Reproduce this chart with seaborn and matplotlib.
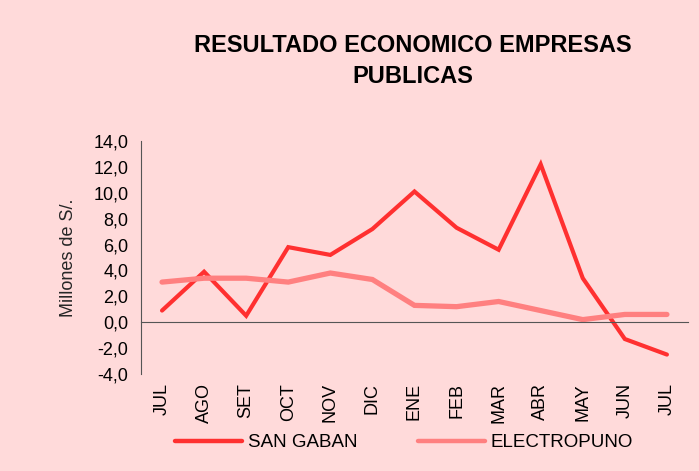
import numpy as np
import pandas as pd
import matplotlib
matplotlib.use("Agg")
import matplotlib.pyplot as plt
import seaborn as sns

# --------------------------------------------------
# DATA
# --------------------------------------------------

months = ["JUL", "AGO", "SET", "OCT", "NOV", "DIC", "ENE",
          "FEB", "MAR", "ABR", "MAY", "JUN", "JUL"]

san_gaban = [0.9, 3.9, 0.5, 5.8, 5.2, 7.2, 10.1,
             7.3, 5.6, 12.2, 3.4, -1.3, -2.5]

electropuno = [3.1, 3.4, 3.4, 3.1, 3.8, 3.3, 1.3,
               1.2, 1.6, 0.9, 0.2, 0.6, 0.6]

yticks = [-4, -2, 0, 2, 4, 6, 8, 10, 12, 14]

df = pd.DataFrame({
    "pos": list(range(len(months))) * 2,
    "valor": san_gaban + electropuno,
    "empresa": ["SAN GABAN"] * len(months) + ["ELECTROPUNO"] * len(months),
})

# --------------------------------------------------
# STYLE
# --------------------------------------------------

bg = "#FFDADA"
sns.set_style("white")
plt.rcParams["font.family"] = ["Liberation Sans", "DejaVu Sans"]
plt.rcParams["text.color"] = "black"
plt.rcParams["ytick.labelcolor"] = "black"

fig = plt.figure(figsize=(6.99, 4.71), dpi=100, facecolor=bg)
ax = fig.add_axes([0.2017, 0.206, 0.7825, 0.4946])
ax.set_facecolor(bg)

sns.lineplot(
    data=df, x="pos", y="valor", hue="empresa",
    palette={"SAN GABAN": "#FF3030", "ELECTROPUNO": "#FF8080"},
    linewidth=3.2, sort=False, ax=ax, legend=True,
)
for ln, lw in zip(ax.lines, [3.0, 3.8]):
    ln.set_linewidth(lw)
    ln.set_solid_joinstyle("miter")

# --------------------------------------------------
# AXES
# --------------------------------------------------

ax.set_xlim(-0.5, len(months) - 0.5)
ax.set_ylim(-4, 14)
ax.set_yticks(yticks)
ax.set_yticklabels([f"{v:.1f}".replace(".", ",") for v in yticks], fontsize=13)
ax.tick_params(axis="y", direction="out", length=6, width=1, color="#555555", pad=3)

ax.set_xticks(np.arange(-0.5, len(months), 1.0))
ax.set_xticklabels([])
ax.tick_params(axis="x", direction="out", length=5, width=1, color="#555555")

for s in ["top", "right"]:
    ax.spines[s].set_visible(False)
ax.spines["left"].set_color("#555555")
ax.spines["bottom"].set_color("#555555")
ax.spines["bottom"].set_position(("data", 0))

for i, m in enumerate(months):
    ax.text(i, -0.04, m, transform=ax.get_xaxis_transform(),
            rotation=90, ha="center", va="top", fontsize=13)

ax.set_xlabel("")
ax.set_ylabel("Millones de S/.", fontsize=13, labelpad=12)

# --------------------------------------------------
# TITLE & LEGEND
# --------------------------------------------------

fig.text(0.591, 0.87, "RESULTADO ECONOMICO EMPRESAS\nPUBLICAS",
         ha="center", va="center", fontsize=17, fontweight="bold",
         linespacing=1.45)

handles, labels = ax.get_legend_handles_labels()
ax.legend(handles, labels, loc="center", bbox_to_anchor=(0.578, 0.06),
          bbox_transform=fig.transFigure, ncol=2, frameon=False,
          fontsize=13.5, handlelength=3.6, columnspacing=3.2, handletextpad=0.3)

plt.savefig("out.png", dpi=100, facecolor=bg)
plt.close()
